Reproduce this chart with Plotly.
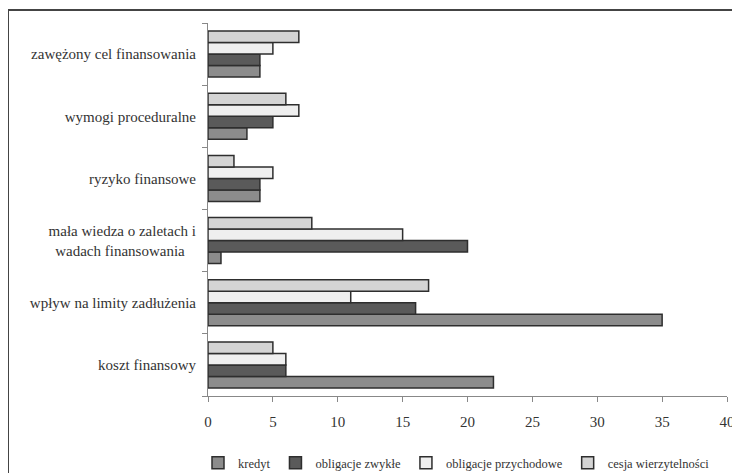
import plotly.graph_objects as go

categories = [
    "koszt finansowy",
    "wpływ na limity zadłużenia",
    "mała wiedza o zaletach i<br>wadach finansowania\u00a0\u00a0\u00a0",
    "ryzyko finansowe",
    "wymogi proceduralne",
    "zawężony cel finansowania",
]
series_names = ["kredyt", "obligacje zwykłe", "obligacje przychodowe", "cesja wierzytelności"]
kredyt = [22, 35, 1, 4, 3, 4]
obligacje_zwykle = [6, 16, 20, 4, 5, 4]
obligacje_przychodowe = [6, 11, 15, 5, 7, 5]
cesja = [5, 17, 8, 2, 6, 7]
x_ticks = [0, 5, 10, 15, 20, 25, 30, 35, 40]

values = [kredyt, obligacje_zwykle, obligacje_przychodowe, cesja]
colors = ["#8c8c8c", "#5a5a5a", "#efefef", "#d4d4d4"]

fig = go.Figure()
for name, vals, col in zip(series_names, values, colors):
    fig.add_trace(go.Bar(
        y=categories, x=vals, name=name, orientation="h",
        marker=dict(color=col, line=dict(color="#2e2e2e", width=1.5)),
    ))

font_family = "Liberation Serif"
OFF = 8  # page body margin
W, H = 740 - OFF, 473 - OFF
L, R, T, B = 208 - OFF, 740 - 727, 23 - OFF, 473 - 396
pw, ph = W - L - R, H - T - B

def px_x(p):
    return (p - OFF - L) / pw

def px_y(p):
    return 1 - (p - OFF - T) / ph

fig.update_layout(
    width=W, height=H,
    margin=dict(l=L, r=R, t=T, b=B, autoexpand=False),
    barmode="group", bargap=0.26, bargroupgap=0,
    plot_bgcolor="white", paper_bgcolor="white",
    font=dict(family=font_family, size=15, color="#333333"),
    showlegend=True,
    legend=dict(orientation="h", x=px_x(198), xanchor="left", y=px_y(463), yanchor="middle",
                traceorder="normal", font=dict(family=font_family, size=12.5),
                itemwidth=30, tracegroupgap=0,
                bgcolor="rgba(0,0,0,0)"),
    xaxis=dict(range=[0, 40], tickvals=x_ticks, showgrid=False, zeroline=False,
               showline=True, linecolor="#888888", linewidth=1,
               ticks="outside", ticklen=5, tickcolor="#888888",
               ticklabelstandoff=7, automargin=False, fixedrange=True),
    yaxis=dict(type="category", showgrid=False, zeroline=False,
               showline=True, linecolor="#888888", linewidth=1,
               ticks="outside", ticklen=5, tickcolor="#888888",
               tickson="boundaries", ticklabelstandoff=8, automargin=False,
               fixedrange=True),
    shapes=[
        dict(type="line", xref="paper", yref="paper", x0=px_x(8), x1=px_x(760),
             y0=px_y(10), y1=px_y(10), line=dict(color="#444444", width=2)),
        dict(type="line", xref="paper", yref="paper", x0=px_x(8), x1=px_x(8),
             y0=px_y(10), y1=px_y(490), line=dict(color="#444444", width=2)),
    ],
)

fig.write_html("out.html")
